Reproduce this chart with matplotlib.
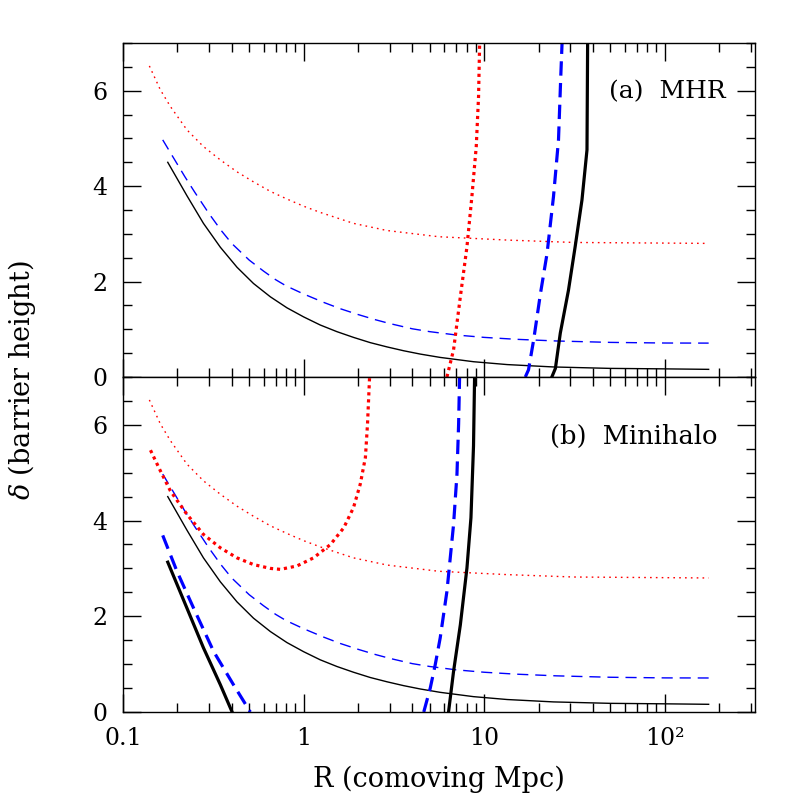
import numpy as np
import matplotlib
matplotlib.use('Agg')
import matplotlib.pyplot as plt
from matplotlib.ticker import FixedLocator, LogLocator, FixedFormatter, NullFormatter, MultipleLocator

plt.rcParams['font.family'] = 'DejaVu Serif'
plt.rcParams['mathtext.fontset'] = 'dejavuserif'

# thin barrier curves (same in both panels)
r_thin_black = [0.177, 0.226, 0.279, 0.346, 0.428, 0.528, 0.655, 0.809, 1.0, 1.236, 1.53,
                1.89, 2.34, 2.90, 3.58, 4.43, 5.71, 8.73, 13.4, 24.2, 50, 100, 175]
d_thin_black = [4.50, 3.80, 3.22, 2.72, 2.30, 1.96, 1.68, 1.45, 1.26, 1.09, 0.95,
                0.83, 0.72, 0.63, 0.55, 0.48, 0.41, 0.32, 0.26, 0.21, 0.18, 0.17, 0.16]

r_thin_blue = [0.166, 0.19, 0.22, 0.25, 0.3, 0.35, 0.4, 0.5, 0.6, 0.7, 0.8, 1.0, 1.3,
               1.6, 2.0, 2.5, 3.0, 4.0, 5.0, 7.0, 10, 15, 25, 50, 100, 175]
d_thin_blue = [4.97, 4.60, 4.20, 3.87, 3.42, 3.07, 2.80, 2.45, 2.22, 2.04, 1.91, 1.74, 1.56,
               1.43, 1.31, 1.20, 1.12, 1.01, 0.95, 0.88, 0.83, 0.79, 0.755, 0.725, 0.712, 0.71]

r_thin_red = [0.140, 0.161, 0.183, 0.226, 0.279, 0.346, 0.428, 0.528, 0.655, 0.809, 1.0,
              1.236, 1.89, 2.90, 5.6, 13.4, 31.3, 175]
d_thin_red = [6.52, 6.02, 5.67, 5.18, 4.83, 4.55, 4.30, 4.09, 3.89, 3.73, 3.58,
              3.45, 3.22, 3.07, 2.94, 2.87, 2.82, 2.80]

# (a) MHR thick curves
r_a_red = [6.22, 6.77, 7.38, 8.03, 8.55, 9.04, 9.31, 9.44]
d_a_red = [0.0, 0.57, 1.68, 2.73, 3.78, 4.83, 5.88, 7.0]
r_a_blue = [16.9, 17.6, 18.8, 20.5, 22.3, 24.2, 25.8, 26.6, 27.0]
d_a_blue = [0.0, 0.15, 0.78, 1.75, 2.59, 3.78, 4.97, 6.37, 7.0]
r_a_black = [23.7, 24.8, 26.4, 29.3, 31.9, 34.8, 37.1, 37.4]
d_a_black = [0.0, 0.18, 0.92, 1.82, 2.73, 3.71, 4.76, 7.0]

# (b) Minihalo thick curves
r_b_red = [0.142, 0.161, 0.183, 0.226, 0.279, 0.346, 0.428, 0.528, 0.655, 0.743, 0.918,
           1.135, 1.41, 1.67, 1.89, 2.06, 2.20, 2.26, 2.32]
d_b_red = [5.47, 5.04, 4.62, 4.13, 3.71, 3.43, 3.22, 3.08, 3.00, 2.98, 3.05,
           3.22, 3.50, 3.85, 4.27, 4.76, 5.32, 6.02, 7.0]
r_b_black_lo = [0.177, 0.226, 0.279, 0.346, 0.402]
d_b_black_lo = [3.13, 2.17, 1.34, 0.57, 0.0]
r_b_blue_lo = [0.166, 0.199, 0.246, 0.318, 0.409, 0.507]
d_b_blue_lo = [3.69, 2.94, 2.17, 1.26, 0.57, 0.0]
r_b_blue_hi = [4.63, 5.03, 5.36, 5.71, 6.22, 6.77, 7.07, 7.22, 7.31]
d_b_blue_hi = [0.0, 0.50, 0.99, 1.55, 2.52, 3.92, 4.97, 6.02, 7.0]
r_b_black_hi = [6.35, 6.77, 7.38, 8.03, 8.45, 8.73, 8.85]
d_b_black_hi = [0.0, 0.85, 1.82, 3.01, 4.06, 5.56, 7.0]

x_ticks = [0.1, 1, 10, 100]
x_ticklabels = ['0.1', '1', '10', '10²']
panel_labels = ['(a)  MHR', '(b)  Minihalo']

thin = 1.0
thick = 2.3

fig = plt.figure(figsize=(7.97, 7.97), dpi=100)
ax_a = fig.add_axes([0.1543, 0.527, 0.793, 0.419])
ax_b = fig.add_axes([0.1543, 0.1067, 0.793, 0.4203], sharex=ax_a)


def draw_thin(ax):
    ax.plot(r_thin_black, d_thin_black, color='black', lw=thin)
    ax.plot(r_thin_blue, d_thin_blue, color='blue', lw=thin, dashes=(8, 5))
    ax.plot(r_thin_red, d_thin_red, color='red', lw=thin, dashes=(1.2, 3.0))


def style(ax):
    ax.set_xscale('log')
    ax.set_xlim(0.1, 316)
    ax.set_ylim(0, 7)
    ax.yaxis.set_major_locator(FixedLocator([0, 2, 4, 6]))
    ax.yaxis.set_minor_locator(MultipleLocator(0.5))
    ax.xaxis.set_major_locator(FixedLocator(x_ticks))
    ax.xaxis.set_minor_locator(LogLocator(base=10, subs=np.arange(2, 10)))
    ax.tick_params(which='both', direction='in', top=True, right=True, width=1.0,
                   labelsize=17, pad=11)
    ax.tick_params(which='major', length=13)
    ax.tick_params(which='minor', length=6.5)
    for s in ax.spines.values():
        s.set_linewidth(1.0)


draw_thin(ax_a)
ax_a.plot(r_a_red, d_a_red, color='red', lw=thick, dashes=(1, 1.2))
ax_a.plot(r_a_blue, d_a_blue, color='blue', lw=thick, dashes=(4.5, 2.3))
ax_a.plot(r_a_black, d_a_black, color='black', lw=thick)
style(ax_a)
ax_a.tick_params(labelbottom=False)
ax_a.text(0.953, 0.853, panel_labels[0], transform=ax_a.transAxes, ha='right', va='center',
          fontsize=18)

draw_thin(ax_b)
ax_b.plot(r_b_red, d_b_red, color='red', lw=thick, dashes=(1, 1.2))
ax_b.plot(r_b_blue_lo, d_b_blue_lo, color='blue', lw=thick, dashes=(4.5, 2.3))
ax_b.plot(r_b_blue_hi, d_b_blue_hi, color='blue', lw=thick, dashes=(4.5, 2.3))
ax_b.plot(r_b_black_lo, d_b_black_lo, color='black', lw=thick)
ax_b.plot(r_b_black_hi, d_b_black_hi, color='black', lw=thick)
style(ax_b)
ax_b.xaxis.set_major_formatter(FixedFormatter(x_ticklabels))
ax_b.xaxis.set_minor_formatter(NullFormatter())
ax_b.text(0.94, 0.824, panel_labels[1], transform=ax_b.transAxes, ha='right', va='center',
          fontsize=18.5)

ax_b.set_xlabel('R (comoving Mpc)', fontsize=19.5, labelpad=11)
fig.text(0.028, 0.523, r'$\delta$ (barrier height)', rotation=90, ha='center', va='center',
         fontsize=19.5)

fig.savefig('out.png', dpi=100)
